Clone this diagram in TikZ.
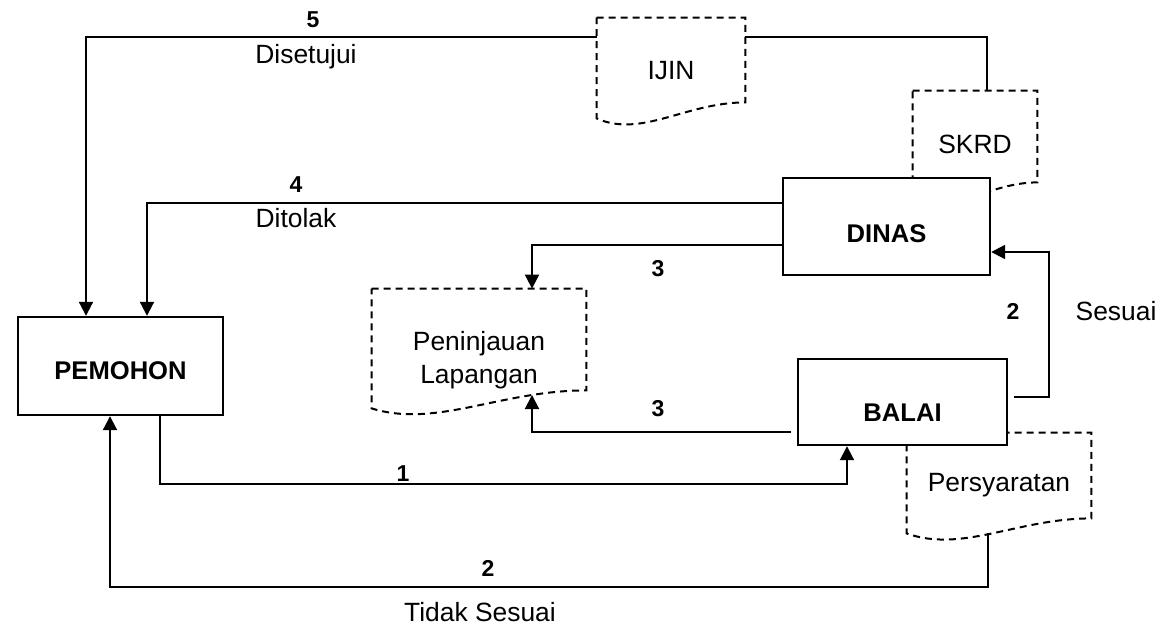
\documentclass[tikz,border=0pt]{standalone}
\usepackage{fontspec}
\setmainfont{Liberation Sans}
\usetikzlibrary{arrows.meta,calc}

\newcommand{\txtsize}{\fontsize{13.2pt}{16.5pt}\selectfont}

\tikzset{
  box/.style={draw, line width=1.2pt, fill=white, font=\fontsize{12.8pt}{15pt}\selectfont\bfseries, inner sep=0pt},
  doc/.style={inner sep=0pt, align=center},
  docline/.style={line width=1pt, dash pattern=on 3.5pt off 2.5pt},
  flow/.style={line width=1pt, -{Triangle[width=7pt,length=7pt]}},
  link/.style={line width=1pt},
  num/.style={font=\fontsize{11.5pt}{13pt}\selectfont\bfseries},
}

% dashed document outline round a node, #2 = rise of the lower right corner
\newcommand{\docoutline}[2]{%
  \draw[docline] (#1.north west) -- (#1.north east) -- ($(#1.south east)+(0,-#2)$)
    .. controls ($(#1.south west)!0.6!(#1.south east)+(0,-#2)$)
    and ($(#1.south west)!0.3!(#1.south east)+(0,20)$) .. (#1.south west) -- cycle;
}

\begin{document}
\begin{tikzpicture}[x=0.5pt, y=-0.5pt, font=\txtsize]

      \useasboundingbox (0,0) rectangle (1160,626);

      % documents
      \node[doc, minimum width=74pt, minimum height=50pt, text height=11.5pt] (ijin) at (671,68) {IJIN};
      \docoutline{ijin}{16}

      \node[doc, minimum width=62pt, minimum height=53pt] (skrd) at (975,144) {SKRD};
      \docoutline{skrd}{15}

      \node[doc, minimum width=107pt, minimum height=59.5pt] (peninj) at (479,348.5)
        {\raisebox{-9pt}[0pt][0pt]{\begin{tabular}{@{}c@{}}Peninjauan\\Lapangan\end{tabular}}};
      \docoutline{peninj}{18}

      \node[doc, minimum width=92pt, minimum height=50pt, text height=11pt] (persy) at (999,483) {Persyaratan};
      \docoutline{persy}{15}

      % boxes
      \node[box, minimum width=102.5pt, minimum height=49pt, text height=14.1pt] (pemohon) at (120.5,366) {PEMOHON};
      \node[box, minimum width=103.5pt, minimum height=48.5pt, text height=16.1pt] (dinas) at (886.5,226.5) {DINAS};
      \node[box, minimum width=104.5pt, minimum height=43pt, text height=19.1pt] (balai) at (902.5,402) {BALAI};

      % bends
      \coordinate (c5) at (86,37);
      \coordinate (c5r) at (987,37);
      \coordinate (c4) at (147,203);
      \coordinate (c3a) at (532,245);
      \coordinate (c3b) at (532,432);
      \coordinate (p3) at (532,395);
      \coordinate (c2a) at (1049,397);
      \coordinate (c2b) at (1049,252);
      \coordinate (c1a) at (160,484);
      \coordinate (c1b) at (847,484);
      \coordinate (q2) at (988,533);
      \coordinate (c2c) at (988,587);
      \coordinate (c2d) at (110,587);

      % connectors
      \draw[link] (skrd.north -| c5r) -- (c5r) -- (c5r -| ijin.east);
      \draw[flow] (c5 -| ijin.west) -- (c5) -- (c5 |- pemohon.north);
      \draw[flow] (c4 -| dinas.west) -- (c4) -- (c4 |- pemohon.north);
      \draw[flow] (c3a -| dinas.west) -- (c3a) -- (c3a |- peninj.north);
      \draw[flow] ($(c3b -| balai.west)+(-6,0)$) -- (c3b) -- (p3);
      \draw[flow] ($(c2a -| balai.east)+(6,0)$) -- (c2a) -- (c2b) -- (c2b -| dinas.east);
      \draw[flow] (pemohon.south -| c1a) -- (c1a) -- (c1b) -- (c1b |- balai.south);
      \draw[flow] (q2) -- (c2c) -- (c2d) -- (c2d |- pemohon.south);

      % labels
      \node[num] (n5) at (313,20) {5};
      \node (l5) at (306,57) {Disetujui};
      \node[num] (n4) at (296,185) {4};
      \node (l4) at (296,218) {Ditolak};
      \node[num] (n3a) at (658,269) {3};
      \node[num] (n3b) at (658,409) {3};
      \node[num] (n2a) at (1013,311) {2};
      \node (l2a) at (1116,311) {Sesuai};
      \node[num] (n1) at (403,474) {1};
      \node[num] (n2b) at (488,568) {2};
      \node (l2b) at (480,612) {Tidak Sesuai};
    \end{tikzpicture}
\end{document}
